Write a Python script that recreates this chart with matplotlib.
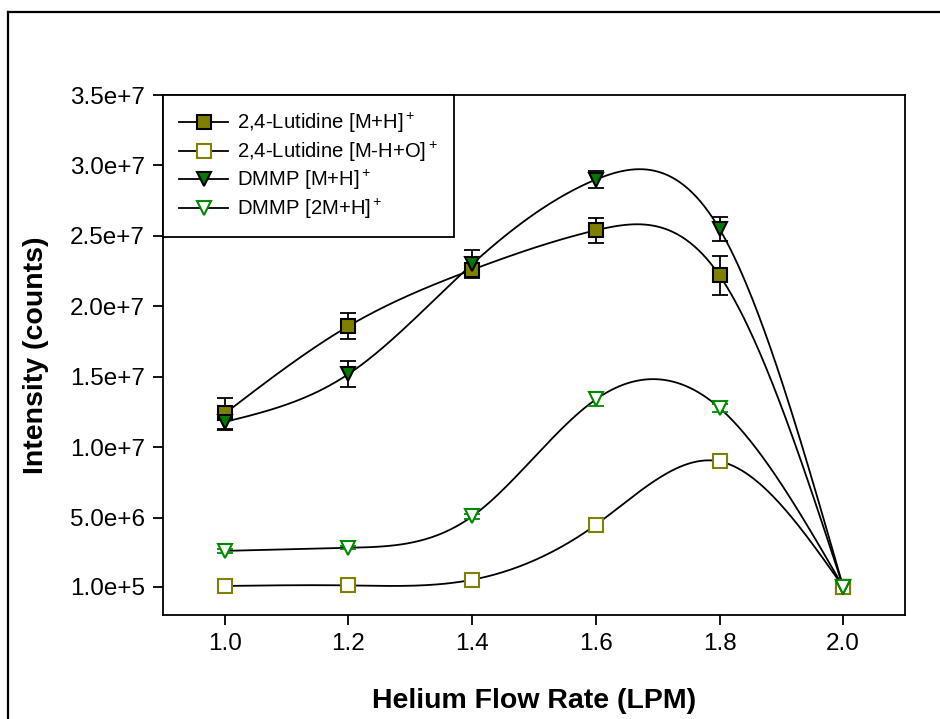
import numpy as np
import matplotlib
matplotlib.use("Agg")
import matplotlib.pyplot as plt
from matplotlib.lines import Line2D

plt.rcParams['font.family'] = ['Liberation Sans', 'DejaVu Sans']
plt.rcParams['mathtext.fontset'] = 'custom'
plt.rcParams['mathtext.rm'] = 'Liberation Sans'
plt.rcParams['mathtext.it'] = 'Liberation Sans'

flow = [1.0, 1.2, 1.4, 1.6, 1.8, 2.0]

lut_mh = [12.4e6, 18.6e6, 22.6e6, 25.4e6, 22.2e6, 1.0e5]
lut_mh_err = [1.1e6, 0.9e6, 0.5e6, 0.9e6, 1.4e6, 0]
lut_mho = [1.6e5, 2.0e5, 6.0e5, 4.5e6, 9.0e6, 1.0e5]
lut_mho_err = [0.1e6, 0.1e6, 0.1e6, 0.2e6, 0.2e6, 0]
dmmp_mh = [11.8e6, 15.2e6, 23.0e6, 29.0e6, 25.5e6, 1.0e5]
dmmp_mh_err = [0.6e6, 0.9e6, 1.0e6, 0.6e6, 0.85e6, 0]
dmmp_2mh = [2.65e6, 2.87e6, 5.1e6, 13.4e6, 12.8e6, 1.0e5]
dmmp_2mh_err = [0.15e6, 0.1e6, 0.2e6, 0.5e6, 0.3e6, 0]

yticks = [1e5, 5e6, 1e7, 1.5e7, 2e7, 2.5e7, 3e7, 3.5e7]
yticklabels = ["1.0e+5", "5.0e+6", "1.0e+7", "1.5e+7", "2.0e+7", "2.5e+7", "3.0e+7", "3.5e+7"]


def natural_spline(x, y, n=300):
    # natural cubic spline, like the smooth curve option of the original plot
    x = np.asarray(x, float)
    y = np.asarray(y, float)
    k = len(x)
    h = np.diff(x)
    A = np.zeros((k, k))
    b = np.zeros(k)
    A[0, 0] = A[-1, -1] = 1
    for i in range(1, k - 1):
        A[i, i - 1] = h[i - 1]
        A[i, i] = 2 * (h[i - 1] + h[i])
        A[i, i + 1] = h[i]
        b[i] = 6 * ((y[i + 1] - y[i]) / h[i] - (y[i] - y[i - 1]) / h[i - 1])
    M = np.linalg.solve(A, b)
    xs = np.linspace(x[0], x[-1], n)
    idx = np.clip(np.searchsorted(x, xs) - 1, 0, k - 2)
    x0, x1 = x[idx], x[idx + 1]
    hh = x1 - x0
    ys = (M[idx] * (x1 - xs) ** 3 / (6 * hh) + M[idx + 1] * (xs - x0) ** 3 / (6 * hh)
          + (y[idx] / hh - M[idx] * hh / 6) * (x1 - xs)
          + (y[idx + 1] / hh - M[idx + 1] * hh / 6) * (xs - x0))
    return xs, ys


fig = plt.figure(figsize=(9.4, 7.19), dpi=100)
ax = fig.add_axes([163 / 940, 1 - 615 / 719, (905 - 163) / 940, (615 - 95) / 719])

series = [
    (lut_mh, lut_mh_err, "s", "#808000", "black", r"2,4-Lutidine [M+H]$^+$"),
    (lut_mho, lut_mho_err, "s", "white", "#808000", r"2,4-Lutidine [M-H+O]$^+$"),
    (dmmp_mh, dmmp_mh_err, "v", "#007a00", "black", r"DMMP [M+H]$^+$"),
    (dmmp_2mh, dmmp_2mh_err, "v", "white", "#008a00", r"DMMP [2M+H]$^+$"),
]

handles = []
for vals, err, mk, fc, ec, lab in series:
    xs, ys = natural_spline(flow, vals)
    ax.plot(xs, ys, color="black", lw=1.3, zorder=2)
    ax.errorbar(flow, vals, yerr=err, fmt="none", ecolor=ec, elinewidth=1.3,
                capsize=5.5, capthick=1.3, zorder=3)
    ax.plot(flow, vals, ls="none", marker=mk, ms=9.5, mfc=fc, mec=ec, mew=1.5, zorder=4)
    handles.append(Line2D([], [], color="black", lw=1.3, marker=mk, ms=9.5,
                          mfc=fc, mec=ec, mew=1.5, label=lab))

ax.set_xlim(0.9, 2.1)
ax.set_ylim(-1.9e6, 3.5e7)
ax.set_xticks(flow)
ax.set_xticklabels(["1.0", "1.2", "1.4", "1.6", "1.8", "2.0"])
ax.set_yticks(yticks)
ax.set_yticklabels(yticklabels)
ax.tick_params(direction="out", length=7, width=1.3, labelsize=17.5, pad=6)
for s in ax.spines.values():
    s.set_linewidth(1.3)

ax.set_xlabel("Helium Flow Rate (LPM)", fontsize=20.5, fontweight="bold", labelpad=24)
ax.set_ylabel("Intensity (counts)", fontsize=20.5, fontweight="bold")
ax.yaxis.set_label_coords(-0.153, 0.5)

leg = ax.legend(handles=handles, loc="upper left", borderaxespad=0, fontsize=14.6,
                handlelength=2.4, labelspacing=0.22, borderpad=0.8, fancybox=False,
                framealpha=1, edgecolor="black", handletextpad=0.45)
leg.get_frame().set_linewidth(1.3)

# outer frame of the original graphic
fig.add_artist(Line2D([8 / 940, 1], [1 - 12 / 719, 1 - 12 / 719], color="black", lw=1.6))
fig.add_artist(Line2D([8 / 940, 8 / 940], [0, 1 - 12 / 719], color="black", lw=1.6))

fig.savefig("out.png", dpi=100)
